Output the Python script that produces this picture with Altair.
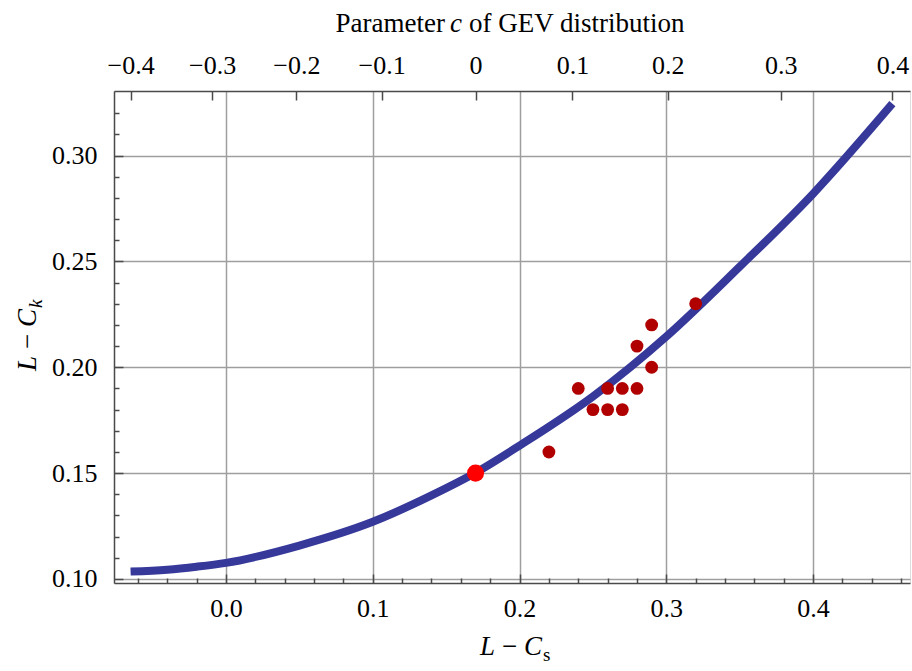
import altair as alt
import pandas as pd

# ---------------- data ----------------
curve_lcs = [-0.065, -0.04, -0.02, 0.0, 0.05, 0.10, 0.14, 0.17, 0.20, 0.25, 0.30, 0.35, 0.40, 0.454]
curve_lck = [0.1035, 0.1044, 0.1058, 0.1076, 0.1158, 0.1270, 0.1395, 0.1502, 0.1630, 0.1862, 0.2145, 0.2475, 0.2820, 0.3245]

obs_lcs = [0.22, 0.24, 0.25, 0.26, 0.26, 0.27, 0.27, 0.28, 0.28, 0.29, 0.29, 0.32]
obs_lck = [0.16, 0.19, 0.18, 0.19, 0.18, 0.19, 0.18, 0.19, 0.21, 0.22, 0.20, 0.23]

gumbel_lcs = [0.17]
gumbel_lck = [0.15]

# top axis: GEV parameter c, positioned at the L-Cs value it maps to
gev_c_labels = ["−0.4", "−0.3", "−0.2", "−0.1", "0", "0.1", "0.2", "0.3", "0.4"]
gev_c_pos = [-0.065, -0.0095, 0.048, 0.106, 0.170, 0.236, 0.301, 0.378, 0.454]

x_major = [0.0, 0.1, 0.2, 0.3, 0.4]
x_minor = [-0.06, -0.04, -0.02, 0.02, 0.04, 0.06, 0.08, 0.12, 0.14, 0.16, 0.18,
           0.22, 0.24, 0.26, 0.28, 0.32, 0.34, 0.36, 0.38, 0.42, 0.44, 0.46]
y_major = [0.10, 0.15, 0.20, 0.25, 0.30]
y_minor = [0.11, 0.12, 0.13, 0.14, 0.16, 0.17, 0.18, 0.19, 0.21, 0.22, 0.23, 0.24,
           0.26, 0.27, 0.28, 0.29, 0.31, 0.32]

X_DOMAIN = [-0.0763, 0.466]
Y_DOMAIN = [0.0981, 0.3305]

# ---------------- styling ----------------
FONT = "Liberation Serif"
TICK_FS = 26
TITLE_FS = 27
FRAME = "#4a4a4a"
GRID = "#9e9e9e"
W, H = 796, 492

curve_df = pd.DataFrame({"lcs": curve_lcs, "lck": curve_lck})
obs_df = pd.DataFrame({"lcs": obs_lcs, "lck": obs_lck})
gum_df = pd.DataFrame({"lcs": gumbel_lcs, "lck": gumbel_lck})

xs = alt.Scale(domain=X_DOMAIN, nice=False, zero=False)
ys = alt.Scale(domain=Y_DOMAIN, nice=False, zero=False)


def label_expr(pos, labels):
    expr = "'%s'" % labels[-1]
    for i in range(len(pos) - 2, -1, -1):
        mid = (pos[i] + pos[i + 1]) / 2
        expr = "datum.value < %.5f ? '%s' : (%s)" % (mid, labels[i], expr)
    return expr


def label_axis(orient, values, **kw):
    return alt.Axis(orient=orient, values=values, ticks=False, grid=False,
                    domain=True, domainColor=FRAME, domainWidth=1.5,
                    labelFont=FONT, labelFontSize=TICK_FS, labelColor="black",
                    labelOverlap=False, labelFlush=False, labelBound=False,
                    title=None, **kw)


def tick_axis(orient, values, size):
    return alt.Axis(orient=orient, values=values, labels=False, domain=False,
                    grid=False, ticks=True, tickSize=size, offset=-size,
                    tickColor=FRAME, tickWidth=1.5, title=None)


# main layer: curve + bottom/left labels and frame
curve = alt.Chart(curve_df).mark_line(
    color="#36389a", strokeWidth=8, strokeCap="butt", interpolate="monotone"
).encode(
    x=alt.X("lcs:Q", scale=xs, axis=label_axis(
        "bottom", x_major, format=".1f", labelPadding=12)),
    y=alt.Y("lck:Q", scale=ys, axis=label_axis(
        "left", y_major, format=".2f", labelPadding=17)),
)

grid_layer = alt.Chart(curve_df).mark_point(opacity=0).encode(
    x=alt.X("lcs:Q", scale=xs, axis=alt.Axis(
        orient="bottom", values=x_major, grid=True, gridColor=GRID, gridWidth=1.5,
        labels=False, ticks=False, domain=False, title=None)),
    y=alt.Y("lck:Q", scale=ys, axis=alt.Axis(
        orient="left", values=y_major, grid=True, gridColor=GRID, gridWidth=1.5,
        labels=False, ticks=False, domain=False, title=None)),
)

major_ticks = alt.Chart(curve_df).mark_point(opacity=0).encode(
    x=alt.X("lcs:Q", scale=xs, axis=tick_axis("bottom", x_major, 9)),
    y=alt.Y("lck:Q", scale=ys, axis=tick_axis("left", y_major, 9)),
)

minor_ticks = alt.Chart(curve_df).mark_point(opacity=0).encode(
    x=alt.X("lcs:Q", scale=xs, axis=tick_axis("bottom", x_minor, 5)),
    y=alt.Y("lck:Q", scale=ys, axis=tick_axis("left", y_minor, 5)),
)

top_labels = alt.Chart(curve_df).mark_point(opacity=0).encode(
    x=alt.X("lcs:Q", scale=xs, axis=label_axis(
        "top", gev_c_pos, labelExpr=label_expr(gev_c_pos, gev_c_labels),
        labelPadding=13)),
    y=alt.Y("lck:Q", scale=ys, axis=None),
)

top_ticks = alt.Chart(curve_df).mark_point(opacity=0).encode(
    x=alt.X("lcs:Q", scale=xs, axis=tick_axis("top", gev_c_pos, 9)),
    y=alt.Y("lck:Q", scale=ys, axis=None),
)

obs = alt.Chart(obs_df).mark_circle(color="#b00000", opacity=1, size=165).encode(
    x=alt.X("lcs:Q", scale=xs, axis=None),
    y=alt.Y("lck:Q", scale=ys, axis=None),
)

gumbel = alt.Chart(gum_df).mark_circle(color="#ff0000", opacity=1, size=290).encode(
    x=alt.X("lcs:Q", scale=xs, axis=None),
    y=alt.Y("lck:Q", scale=ys, axis=None),
)


def txt(text, x, y, align="left", italic=False, size=TITLE_FS, angle=0):
    kw = dict(text=text, font=FONT, fontSize=size, color="black", align=align,
              baseline="alphabetic")
    if italic:
        kw["fontStyle"] = "italic"
    if angle:
        kw["angle"] = angle
    return alt.Chart(pd.DataFrame({"a": [0]})).mark_text(**kw).encode(
        x=alt.value(x), y=alt.value(y))


LMC = "L\u2009\u2212\u2009C"

titles = [
    # top title: "Parameter c of GEV distribution"
    txt("Parameter", 331, -59, align="right"),
    txt("c", 342, -59, align="center", italic=True),
    txt("of GEV distribution", 355, -59, align="left"),
    # bottom title: L−C_s
    txt(LMC, 428, 564, align="right", italic=True),
    txt("s", 429, 570, align="left", size=19),
    # left title: L−C_k (rotated)
    txt(LMC, -78, 218, align="right", italic=True, angle=270),
    txt("k", -72, 217, align="left", italic=True, size=19, angle=270),
]

chart = alt.layer(
    grid_layer, curve, major_ticks, minor_ticks, top_labels, top_ticks, obs, gumbel, *titles
).resolve_axis(
    x="independent", y="independent"
).properties(
    width=W, height=H,
    autosize=alt.AutoSizeParams(type="none"),
    padding={"left": 114, "top": 91, "right": 2, "bottom": 88},
).configure_view(
    stroke="#c4c4c4", strokeWidth=1.2
).configure(background="white")

chart.save("out.html", embed_options={"renderer": "svg", "actions": False})
